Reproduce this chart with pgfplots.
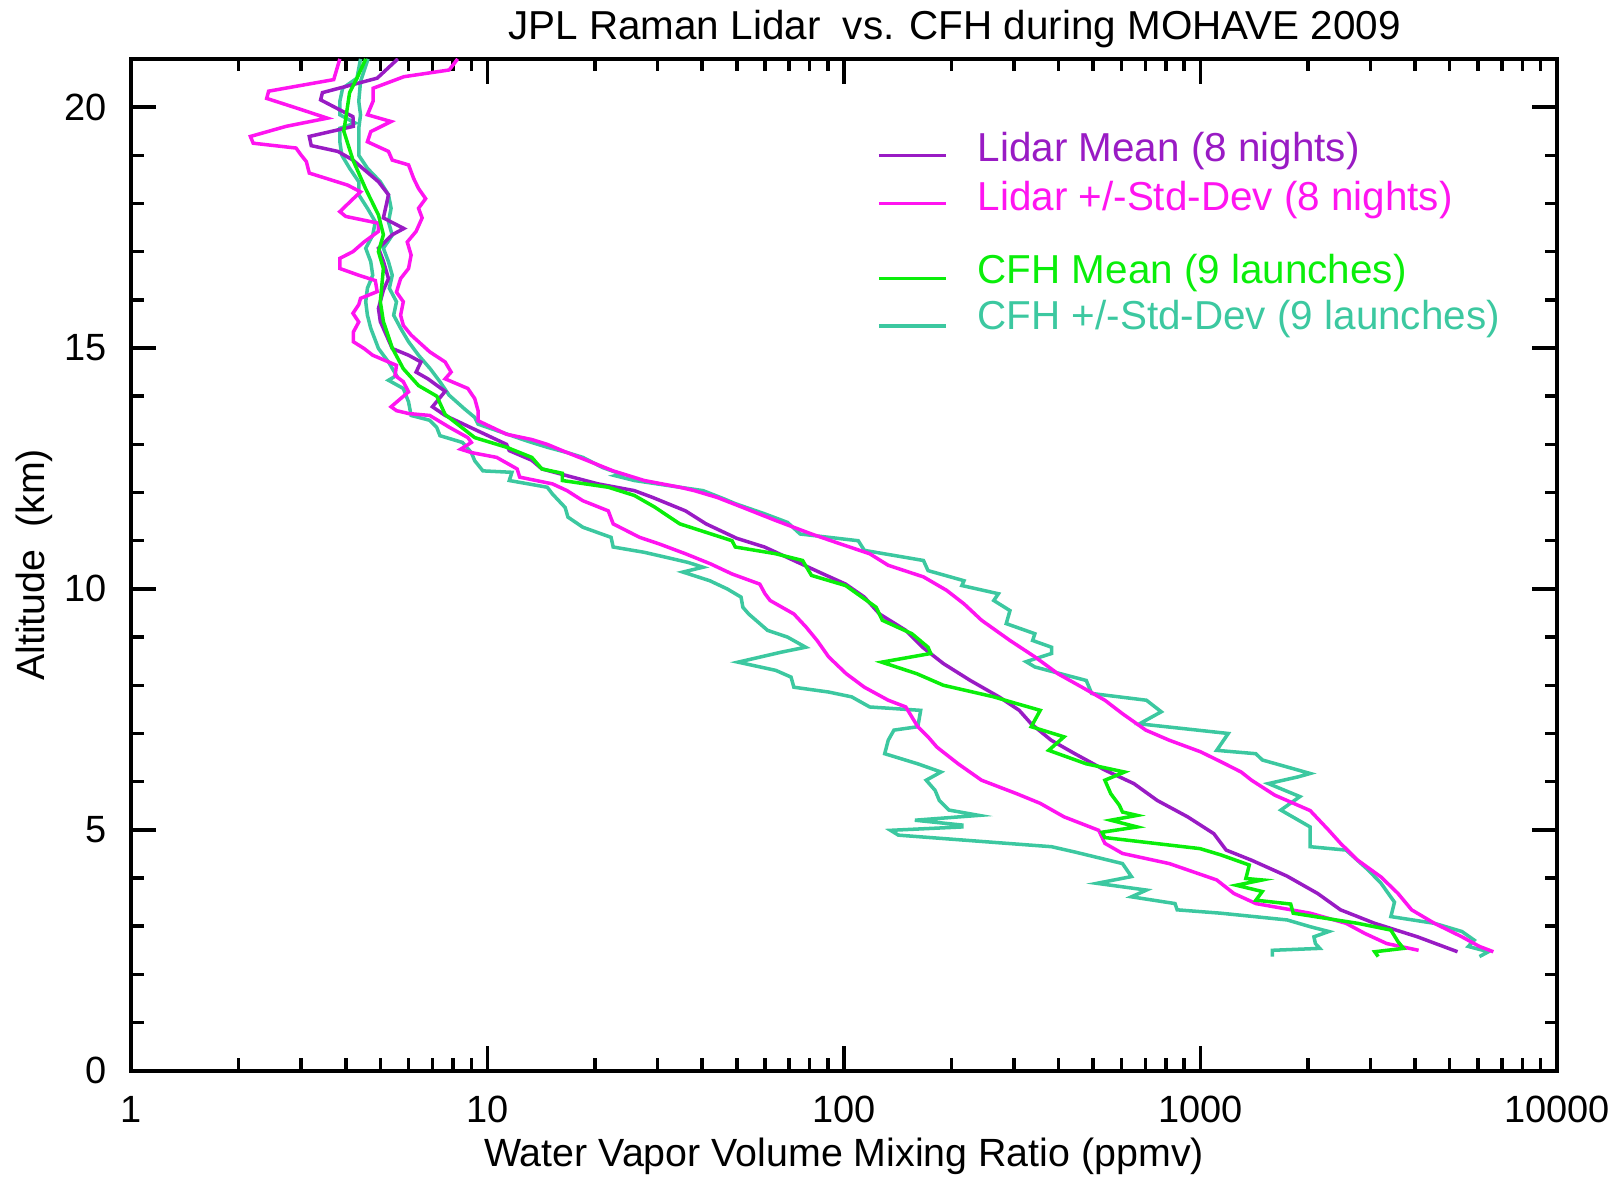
\documentclass[border=0pt]{standalone}
\usepackage{fontspec}
\setmainfont{Liberation Sans}
\usepackage{pgfplots}
\pgfplotsset{compat=1.18}
\definecolor{lidmean}{RGB}{153,27,196}
\definecolor{lidstd}{RGB}{255,20,240}
\definecolor{cfhmean}{RGB}{10,238,10}
\definecolor{cfhstd}{RGB}{60,200,160}
\newcommand{\legfont}{\fontsize{11.5}{13.8}\selectfont}

\begin{document}
\begin{tikzpicture}
\begin{semilogxaxis}[
  scale only axis, width=142.6mm, height=101.2mm,
  xmin=1, xmax=10000, ymin=0, ymax=21,
  xtick={1,10,100,1000,10000}, xticklabels={1,10,100,1000,10000},
  minor xtick={2,3,4,5,6,7,8,9,20,30,40,50,60,70,80,90,200,300,400,500,600,700,800,900,2000,3000,4000,5000,6000,7000,8000,9000},
  ytick={0,5,10,15,20}, yticklabels={0,5,10,15,20},
  minor y tick num=4,
  tick align=inside,
  major tick length=2.5mm, minor tick length=1.25mm,
  axis line style={line width=1.1pt},
  every tick/.style={black, line width=1pt},
  ticklabel style={font=\fontsize{10.8}{13}\selectfont},
  xticklabel style={yshift=-1.3mm},
  yticklabel style={xshift=-1.2mm},
  xlabel={Water Vapor Volume Mixing Ratio (ppmv)},
  ylabel={Altitude\ \ (km)},
  label style={font=\fontsize{11.2}{13}\selectfont},
  xlabel style={at={(axis description cs:0.5,-0.0944)}, anchor=base},
  ylabel style={at={(axis description cs:-0.068,0.5)}, anchor=center},
  clip mode=individual,
  every axis plot/.append style={line width=1pt, mark=none},
]
% CFH -std
\addplot[cfhstd] coordinates {
(4.4,21.0) (4.3,20.6) (3.92,20.39) (3.85,20.12) (3.85,19.84) (4.25,19.67) (3.85,19.56)
(3.85,19.28) (3.9,19.0) (4.1,18.73) (4.35,18.45) (4.35,18.18) (4.6,17.9) (4.84,17.62)
(4.76,17.34) (4.55,17.07) (4.7,16.79) (4.76,16.51) (4.6,16.24) (4.55,15.96) (4.6,15.68)
(4.7,15.41) (4.94,14.99) (5.27,14.71) (5.55,14.43) (5.27,14.33) (5.8,14.16) (6.0,13.88)
(6.1,13.6) (6.88,13.5) (7.2,13.35) (7.35,13.18) (8.5,13.04) (9.0,12.83) (9.2,12.66)
(9.7,12.45) (11.7,12.42) (11.5,12.25) (14.7,12.11) (15.2,11.97) (16.5,11.69) (16.8,11.49)
(18.5,11.28) (22.2,11.07) (22.5,10.87) (27.5,10.76) (31.5,10.66) (36.5,10.55) (40.2,10.45)
(35.3,10.35) (42,10.17) (47,10.0) (51.4,9.83) (52,9.62) (54,9.48) (61,9.14) (69.4,9.0)
(78,8.79) (66.9,8.69) (50.4,8.48) (64.3,8.31) (71,8.17) (72.3,7.96) (90.5,7.86) (105,7.76)
(118,7.55) (164,7.48) (161,7.14) (138,7.07) (133,6.86) (130,6.58) (161,6.37) (187,6.2)
(170,6.03) (180,5.82) (185,5.61) (197,5.41) (239,5.3) (158,5.2) (214,5.1) (214,5.06)
(135,4.99) (142,4.89) (214,4.79) (382,4.65) (444,4.54) (604,4.3) (640,4.03) (512,3.89)
(705,3.75) (640,3.61) (848,3.47) (860,3.34) (1140,3.27) (1750,3.13) (2030,2.99) (2290,2.89)
(2080,2.78) (2100,2.64) (2160,2.54) (1590,2.5) (1590,2.37)
};
% CFH +std
\addplot[cfhstd] coordinates {
(4.62,21.0) (4.4,20.53) (4.35,20.12) (4.4,19.84) (4.35,19.56) (4.35,19.28) (4.35,19.0)
(4.6,18.73) (5.0,18.45) (5.27,18.18) (5.36,17.9) (5.27,17.62) (5.4,17.34) (5.1,17.07)
(5.27,16.79) (5.4,16.51) (5.3,16.24) (5.55,15.96) (5.45,15.68) (5.7,15.41) (6.0,15.13)
(6.4,14.85) (6.9,14.57) (7.35,14.3) (7.8,14.02) (8.6,13.74) (9.2,13.56) (9.4,13.42)
(12.9,13.07) (14.7,12.94) (16.7,12.83) (18.5,12.73) (21,12.52) (23.7,12.38) (22.8,12.35)
(25.8,12.25) (32.5,12.14) (40.2,12.04) (46,11.87) (49.5,11.77) (59.8,11.56) (69.4,11.38)
(75.3,11.14) (109.6,11.0) (114,10.8) (167,10.59) (172,10.38) (217,10.17) (214,10.07)
(271,9.9) (263,9.76) (292,9.55) (285,9.28) (343,9.07) (338,8.93) (382,8.79) (382,8.66)
(324,8.49) (343,8.38) (478,8.1) (495,7.83) (705,7.69) (776,7.45) (674,7.2) (1196,7.0)
(1110,6.65) (1430,6.58) (1490,6.45) (2030,6.17) (1880,6.1) (1550,5.96) (1900,5.69)
(1680,5.41) (2030,5.06) (2030,4.65) (2560,4.58) (2950,4.17) (3210,3.89) (3500,3.5)
(3420,3.2) (4530,3.06) (5410,2.89) (5860,2.71) (5640,2.58) (6420,2.47) (6060,2.37)
};
% Lidar -std
\addplot[lidstd] coordinates {
(3.85,21.0) (3.7,20.57) (2.43,20.33) (2.4,20.18) (2.91,19.98) (3.55,19.77) (2.72,19.6)
(2.16,19.39) (2.2,19.25) (2.9,19.15) (3.0,19.0) (3.1,18.87) (3.16,18.63) (4.05,18.38)
(4.4,18.24) (4.2,18.1) (3.85,17.83) (4.0,17.73) (4.94,17.59) (4.94,17.42) (4.5,17.2)
(4.19,17.0) (3.85,16.86) (3.85,16.65) (4.35,16.51) (4.84,16.4) (4.9,16.17) (4.4,16.03)
(4.35,15.9) (4.19,15.72) (4.35,15.54) (4.2,15.33) (4.2,15.13) (4.5,14.99) (4.76,14.85)
(5.55,14.64) (5.5,14.43) (5.8,14.3) (6.0,14.09) (5.36,13.78) (5.55,13.7) (6.0,13.64)
(6.88,13.6) (7.83,13.35) (8.8,13.14) (9.0,13.04) (8.4,12.9) (9.0,12.83) (10.6,12.73)
(12.1,12.49) (12.3,12.32) (15.2,12.18) (16.7,12.04) (18.5,11.83) (21.8,11.62) (22.5,11.35)
(26.7,11.07) (30.4,10.93) (35.9,10.73) (42.2,10.52) (48.5,10.31) (58,10.1) (60,9.9)
(62,9.76) (72.3,9.48) (78.2,9.21) (84,8.93) (90.5,8.59) (101.4,8.24) (114,7.96) (133,7.69)
(149,7.55) (155,7.34) (161,7.14) (172,6.93) (182,6.72) (187,6.65) (209,6.37) (243,6.03)
(305,5.75) (355,5.55) (414,5.27) (518,4.99) (539,4.72) (604,4.51) (817,4.3) (1110,3.96)
(1240,3.68) (1430,3.47) (2030,3.27) (2560,3.06) (2890,2.85) (3330,2.64) (4090,2.5)
};
% Lidar +std
\addplot[lidstd] coordinates {
(8.24,21.0) (7.8,20.77) (5.82,20.63) (4.77,20.39) (4.77,20.12) (4.6,19.84) (5.36,19.7)
(4.7,19.49) (4.6,19.28) (5.27,19.08) (5.4,18.9) (6.0,18.8) (6.2,18.52) (6.4,18.31)
(6.7,18.1) (6.4,17.9) (6.55,17.7) (6.3,17.42) (5.95,17.2) (6.1,16.93) (6.0,16.65)
(5.7,16.44) (5.55,16.16) (5.8,15.96) (5.7,15.68) (5.8,15.47) (6.1,15.27) (6.88,14.92)
(7.6,14.71) (7.9,14.5) (7.6,14.36) (8.8,14.16) (9.2,13.95) (9.4,13.7) (9.4,13.49)
(11.3,13.21) (13.3,13.1) (14.7,13.0) (16.2,12.87) (19.1,12.66) (22.5,12.45) (27.5,12.25)
(34.6,12.11) (38,12.04) (44,11.9) (52,11.69) (64.3,11.42) (81,11.14) (98,10.93)
(118,10.73) (133,10.49) (167,10.25) (194,9.97) (217,9.69) (243,9.35) (292,8.93)
(343,8.59) (398,8.24) (465,7.96) (539,7.69) (604,7.41) (702,7.07) (817,6.86) (1000,6.62)
(1150,6.4) (1300,6.2) (1390,6.03) (1615,5.72) (2030,5.4) (2290,4.99) (2470,4.72)
(2760,4.37) (3210,4.02) (3580,3.68) (3910,3.34) (4530,3.06) (5410,2.78) (6060,2.58)
(6630,2.47)
};
% Lidar mean
\addplot[lidmean] coordinates {
(5.6,21.0) (4.9,20.6) (3.44,20.3) (3.4,20.15) (4.19,19.8) (4.2,19.6) (3.16,19.39)
(3.2,19.2) (3.8,19.08) (4.19,18.9) (4.94,18.45) (5.27,18.18) (5.2,17.98) (5.1,17.7)
(5.82,17.48) (5.4,17.35) (4.94,17.07) (5.1,16.8) (5.27,16.44) (5.1,16.2) (4.94,15.82)
(5.0,15.55) (5.4,14.99) (6.0,14.85) (6.5,14.71) (6.3,14.5) (6.8,14.36) (7.6,14.1)
(7.0,13.78) (7.6,13.6) (8.96,13.35) (11.3,13.0) (11.5,12.87) (13.3,12.67) (14.2,12.49)
(16.7,12.35) (20.4,12.18) (25.8,12.04) (29,11.9) (35.9,11.62) (41,11.35) (50,11.05)
(59.8,10.87) (72.3,10.59) (87.4,10.31) (101,10.1) (114,9.83) (125.7,9.48) (149,9.14)
(166,8.79) (190,8.45) (226,8.1) (272,7.76) (310,7.48) (335,7.2) (381,6.86) (444,6.58)
(539,6.24) (650,5.96) (756,5.61) (920,5.27) (1090,4.92) (1180,4.58) (1390,4.37)
(1748,4.04) (2130,3.68) (2470,3.34) (3080,3.06) (4060,2.78) (5260,2.47)
};
% CFH mean
\addplot[cfhmean] coordinates {
(4.55,21.0) (4.3,20.6) (4.1,20.3) (3.95,19.5) (4.19,18.9) (4.55,18.3) (4.94,17.76)
(5.1,17.35) (4.94,17.0) (5.1,16.65) (5.0,15.96) (5.1,15.55) (5.4,15.0) (5.8,14.57)
(6.4,14.22) (7.2,14.0) (7.6,13.62) (9.2,13.14) (11.3,12.94) (13.3,12.73) (14.2,12.49)
(16.2,12.4) (16.2,12.25) (21.8,12.11) (25.8,11.94) (29.4,11.7) (34.6,11.35) (48.5,11.0)
(49.5,10.87) (64.3,10.73) (76.5,10.59) (81,10.28) (101,10.07) (123,9.62) (128,9.35)
(155,9.07) (172,8.79) (175,8.66) (127.5,8.48) (160,8.24) (190,8.0) (263,7.76) (292,7.66)
(355,7.48) (335,7.14) (414,6.93) (375,6.65) (478,6.37) (612,6.2) (539,6.03) (560,5.75)
(592,5.51) (604,5.37) (664,5.3) (560,5.2) (664,5.06) (529,4.95) (539,4.84) (997,4.61)
(1140,4.48) (1370,4.27) (1340,3.99) (1490,3.96) (1260,3.85) (1490,3.72) (1430,3.54)
(1790,3.46) (1820,3.27) (2760,3.06) (3420,2.92) (3580,2.68) (3710,2.54) (3080,2.47)
(3150,2.37)
};
% title and legend
\node[anchor=base, inner sep=0pt, font=\legfont] at (axis description cs:0.5775,1.0194) {JPL Raman Lidar\ \ vs. CFH during MOHAVE 2009};
\draw[lidmean, line width=1pt] (axis description cs:0.5243,0.9043) -- (axis description cs:0.5717,0.9043);
\node[anchor=base west, inner sep=0pt, text=lidmean, font=\legfont] at (axis description cs:0.5932,0.8984) {Lidar Mean (8 nights)};
\draw[lidstd, line width=1pt] (axis description cs:0.5243,0.8573) -- (axis description cs:0.5717,0.8573);
\node[anchor=base west, inner sep=0pt, text=lidstd, font=\legfont] at (axis description cs:0.5932,0.8506) {Lidar +/-Std-Dev (8 nights)};
\draw[cfhmean, line width=1pt] (axis description cs:0.5243,0.7832) -- (axis description cs:0.5717,0.7832);
\node[anchor=base west, inner sep=0pt, text=cfhmean, font=\legfont] at (axis description cs:0.5932,0.7783) {CFH Mean (9 launches)};
\draw[cfhstd, line width=1pt] (axis description cs:0.5243,0.7361) -- (axis description cs:0.5717,0.7361);
\node[anchor=base west, inner sep=0pt, text=cfhstd, font=\legfont] at (axis description cs:0.5932,0.7321) {CFH +/-Std-Dev (9 launches)};
\coordinate (sw) at (rel axis cs:0,0);
\coordinate (ne) at (rel axis cs:1,1);
\end{semilogxaxis}
\pgfresetboundingbox
\path ([xshift=-13.12mm,yshift=-10.6mm]sw) rectangle ([xshift=6.3mm,yshift=5.89mm]ne);
\end{tikzpicture}
\end{document}
